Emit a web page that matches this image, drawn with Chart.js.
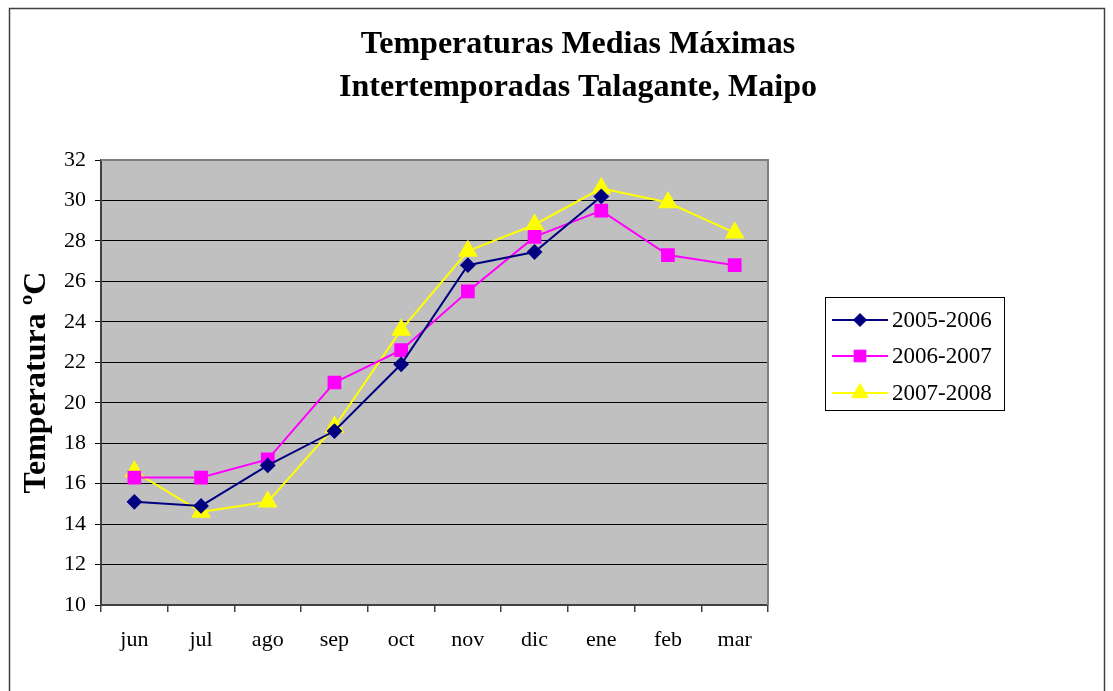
<!DOCTYPE html>
<html><head><meta charset="utf-8">
<script src="https://cdn.jsdelivr.net/npm/chart.js@4.4.1/dist/chart.umd.min.js"></script>
<style>html,body{margin:0;padding:0;background:#fff;}#wrap{width:1113px;height:691px;position:relative;}</style>
</head><body><div id="wrap"><canvas id="c" width="1113" height="691"></canvas></div>
<script>
const categories = ['jun','jul','ago','sep','oct','nov','dic','ene','feb','mar'];
const s2005_2006 = [15.1, 14.9, 16.9, 18.6, 21.9, 26.8, 27.45, 30.2, null, null];
const s2006_2007 = [16.3, 16.3, 17.2, 21.0, 22.6, 25.5, 28.2, 29.5, 27.3, 26.8];
const s2007_2008 = [16.6, 14.6, 15.1, 18.8, 23.6, 27.5, 28.8, 30.6, 29.9, 28.4];
const seriesNames = ['2005-2006','2006-2007','2007-2008'];
const titleLines = ['Temperaturas Medias Máximas','Intertemporadas Talagante, Maipo'];
const yTitle = 'Temperatura ºC';
const FONT = "'Liberation Serif','Times New Roman',serif";

const decor = {
  id:'decor',
  beforeDraw(chart){
    const ctx = chart.ctx, a = chart.chartArea;
    ctx.save();
    ctx.fillStyle = '#fff'; ctx.fillRect(0,0,chart.width,chart.height);
    ctx.fillStyle = '#C0C0C0'; ctx.fillRect(a.left,a.top,a.right-a.left,a.bottom-a.top);
    ctx.strokeStyle = '#404040'; ctx.lineWidth = 1.5;
    ctx.strokeRect(9.5,8.5,1095,720);
    ctx.restore();
  },
  afterDraw(chart){
    const ctx = chart.ctx, a = chart.chartArea;
    ctx.save();
    ctx.strokeStyle = '#808080'; ctx.lineWidth = 2;
    ctx.beginPath(); ctx.moveTo(a.left,a.top); ctx.lineTo(a.right,a.top); ctx.lineTo(a.right,a.bottom); ctx.stroke();
    ctx.fillStyle = '#000'; ctx.textAlign='center'; ctx.textBaseline='middle';
    ctx.font = "bold 32px " + FONT;
    ctx.fillText(titleLines[0], 578, 45);
    ctx.fillText(titleLines[1], 578, 88);
    const lx=825, ly=297, lw=179, lh=113;
    ctx.fillStyle='#fff'; ctx.fillRect(lx,ly,lw,lh);
    ctx.strokeStyle='#000'; ctx.lineWidth=1; ctx.strokeRect(lx+0.5,ly+0.5,lw,lh);
    const ys=[320,356,393];
    chart.data.datasets.forEach((ds,i)=>{
      const y=ys[i];
      ctx.strokeStyle=ds.borderColor; ctx.lineWidth=2;
      ctx.beginPath(); ctx.moveTo(832,y); ctx.lineTo(888,y); ctx.stroke();
      ctx.save();
      ctx.fillStyle=ds.pointBackgroundColor; ctx.strokeStyle=ds.pointBorderColor; ctx.lineWidth=1;
      Chart.helpers.drawPoint(ctx,{pointStyle:ds.pointStyle,radius:ds.pointRadius,borderWidth:1,rotation:0},860,y);
      ctx.restore();
      ctx.fillStyle='#000'; ctx.textAlign='left'; ctx.textBaseline='middle';
      ctx.font = "23px " + FONT;
      ctx.fillText(ds.label, 892, y+1);
    });
    ctx.restore();
  }
};

const mk = (label, data, color, style, r) => ({
  label, data, borderColor: color, backgroundColor: color,
  pointBackgroundColor: color, pointBorderColor: color,
  pointStyle: style, pointRadius: r, pointHoverRadius: r, borderWidth: 2,
  tension: 0, spanGaps: false
});

new Chart(document.getElementById('c'), {
  type:'line',
  data:{
    labels: categories,
    datasets:[
      mk(seriesNames[0], s2005_2006, '#000080', 'rectRot', 6.5),
      mk(seriesNames[1], s2006_2007, '#FF00FF', 'rect', 8.3),
      mk(seriesNames[2], s2007_2008, '#FFFF00', 'triangle', 9.5)
    ]
  },
  options:{
    responsive:false, animation:false, devicePixelRatio:1,
    layout:{padding:{left:18, top:160, right:345, bottom:0}},
    plugins:{legend:{display:false}, title:{display:false}, tooltip:{enabled:false}},
    scales:{
      x:{
        offset:true,
        grid:{offset:true, drawOnChartArea:false, drawTicks:true, tickLength:7, color:'#404040', lineWidth:1.5},
        border:{display:true, color:'#404040', width:2},
        ticks:{color:'#000', font:{family:FONT, size:22}, padding:15, maxRotation:0},
        afterFit(s){ s.height = 86; }
      },
      y:{
        min:10, max:32,
        ticks:{stepSize:2, color:'#000', font:{family:FONT, size:22}, padding:9},
        grid:{color:'#000', lineWidth:1, tickLength:6, drawTicks:true},
        border:{display:true, color:'#404040', width:2},
        title:{display:true, text:yTitle, color:'#000', font:{family:FONT, size:32, weight:'bold'}, padding:{top:0,bottom:0}},
        afterFit(s){ s.width = 83; }
      }
    }
  },
  plugins:[decor]
});
</script></body></html>
